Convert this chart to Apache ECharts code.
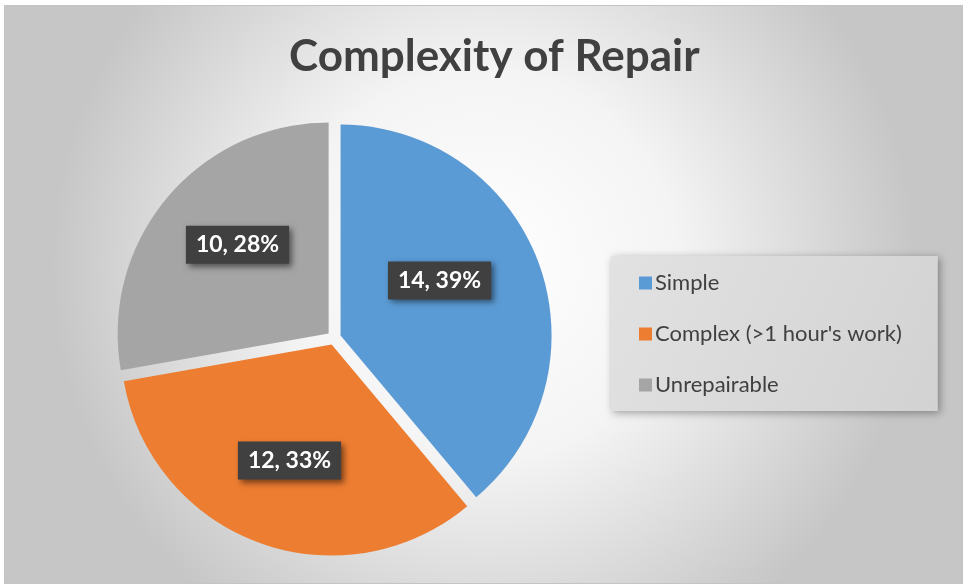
<!DOCTYPE html>
<html>
<head>
<meta charset="utf-8">
<script src="https://cdn.jsdelivr.net/npm/echarts@6/dist/echarts.min.js"></script>
<style>
	html, body { margin: 0; padding: 0; background: #ffffff; }
	#chart { position: absolute; left: 4px; top: 5px; width: 957px; height: 577px; border: 1px solid #c4c4c4; }
</style>
</head>
<body>
<div id="chart"></div>
<script>
	const categories = ['Simple', "Complex (>1 hour's work)", 'Unrepairable'];
	const counts = [14, 12, 10];
	const colors = ['#5b9bd5', '#ed7d31', '#a5a5a5'];
	// small nudges so the boxes sit where the original puts them
	const labelNudge = [[-3, -18], [-5, 14], [-8, -19]];

	const myChart = echarts.init(document.getElementById('chart'));

	const pieData = categories.map((name, i) => ({
		name: name,
		value: counts[i],
		selected: true,
		itemStyle: { color: colors[i] }
	}));

	const option = {
		backgroundColor: new echarts.graphic.RadialGradient(0.5, 0.45, 0.75, [
			{ offset: 0, color: '#ffffff' },
			{ offset: 0.45, color: '#f4f4f4' },
			{ offset: 1, color: '#c6c6c6' }
		]),
		title: {
			text: 'Complexity of Repair',
			left: 279,
			top: 24,
			textStyle: {
				fontFamily: 'Lato',
				fontWeight: 'bold',
				fontSize: 44,
				color: '#404040'
			}
		},
		legend: {
			orient: 'vertical',
			left: 606,
			top: 250,
			padding: [16, 36, 15, 28],
			itemGap: 29,
			itemWidth: 13,
			itemHeight: 13,
			icon: 'rect',
			backgroundColor: new echarts.graphic.LinearGradient(0, 0, 1, 1, [
				{ offset: 0, color: '#e2e2e2' },
				{ offset: 1, color: '#d2d2d2' }
			]),
			shadowBlur: 8,
			shadowColor: 'rgba(0,0,0,0.35)',
			shadowOffsetX: 2,
			shadowOffsetY: 2,
			selectedMode: false,
			textStyle: {
				fontFamily: 'Lato',
				fontSize: 22,
				color: '#404040',
				padding: [0, 0, 0, -2]
			},
			data: categories
		},
		series: [{
			type: 'pie',
			center: [329, 332],
			radius: 211,
			startAngle: 90,
			clockwise: true,
			selectedMode: 'multiple',
			selectedOffset: 7,
			animation: false,
			label: {
				show: true,
				position: 'inside',
				formatter: (p) => p.value + ', ' + Math.round(p.percent) + '%',
				fontFamily: 'Lato',
				fontWeight: 'bold',
				fontSize: 23,
				color: '#ffffff',
				backgroundColor: '#404040',
				padding: [8, 10, 7, 10],
				shadowBlur: 6,
				shadowColor: 'rgba(0,0,0,0.5)',
				shadowOffsetX: 3,
				shadowOffsetY: 3
			},
			labelLayout: (params) => ({
				dx: labelNudge[params.dataIndex][0],
				dy: labelNudge[params.dataIndex][1]
			}),
			labelLine: { show: false },
			emphasis: { disabled: true },
			data: pieData
		}]
	};
	myChart.setOption(option);
</script>
</body>
</html>
